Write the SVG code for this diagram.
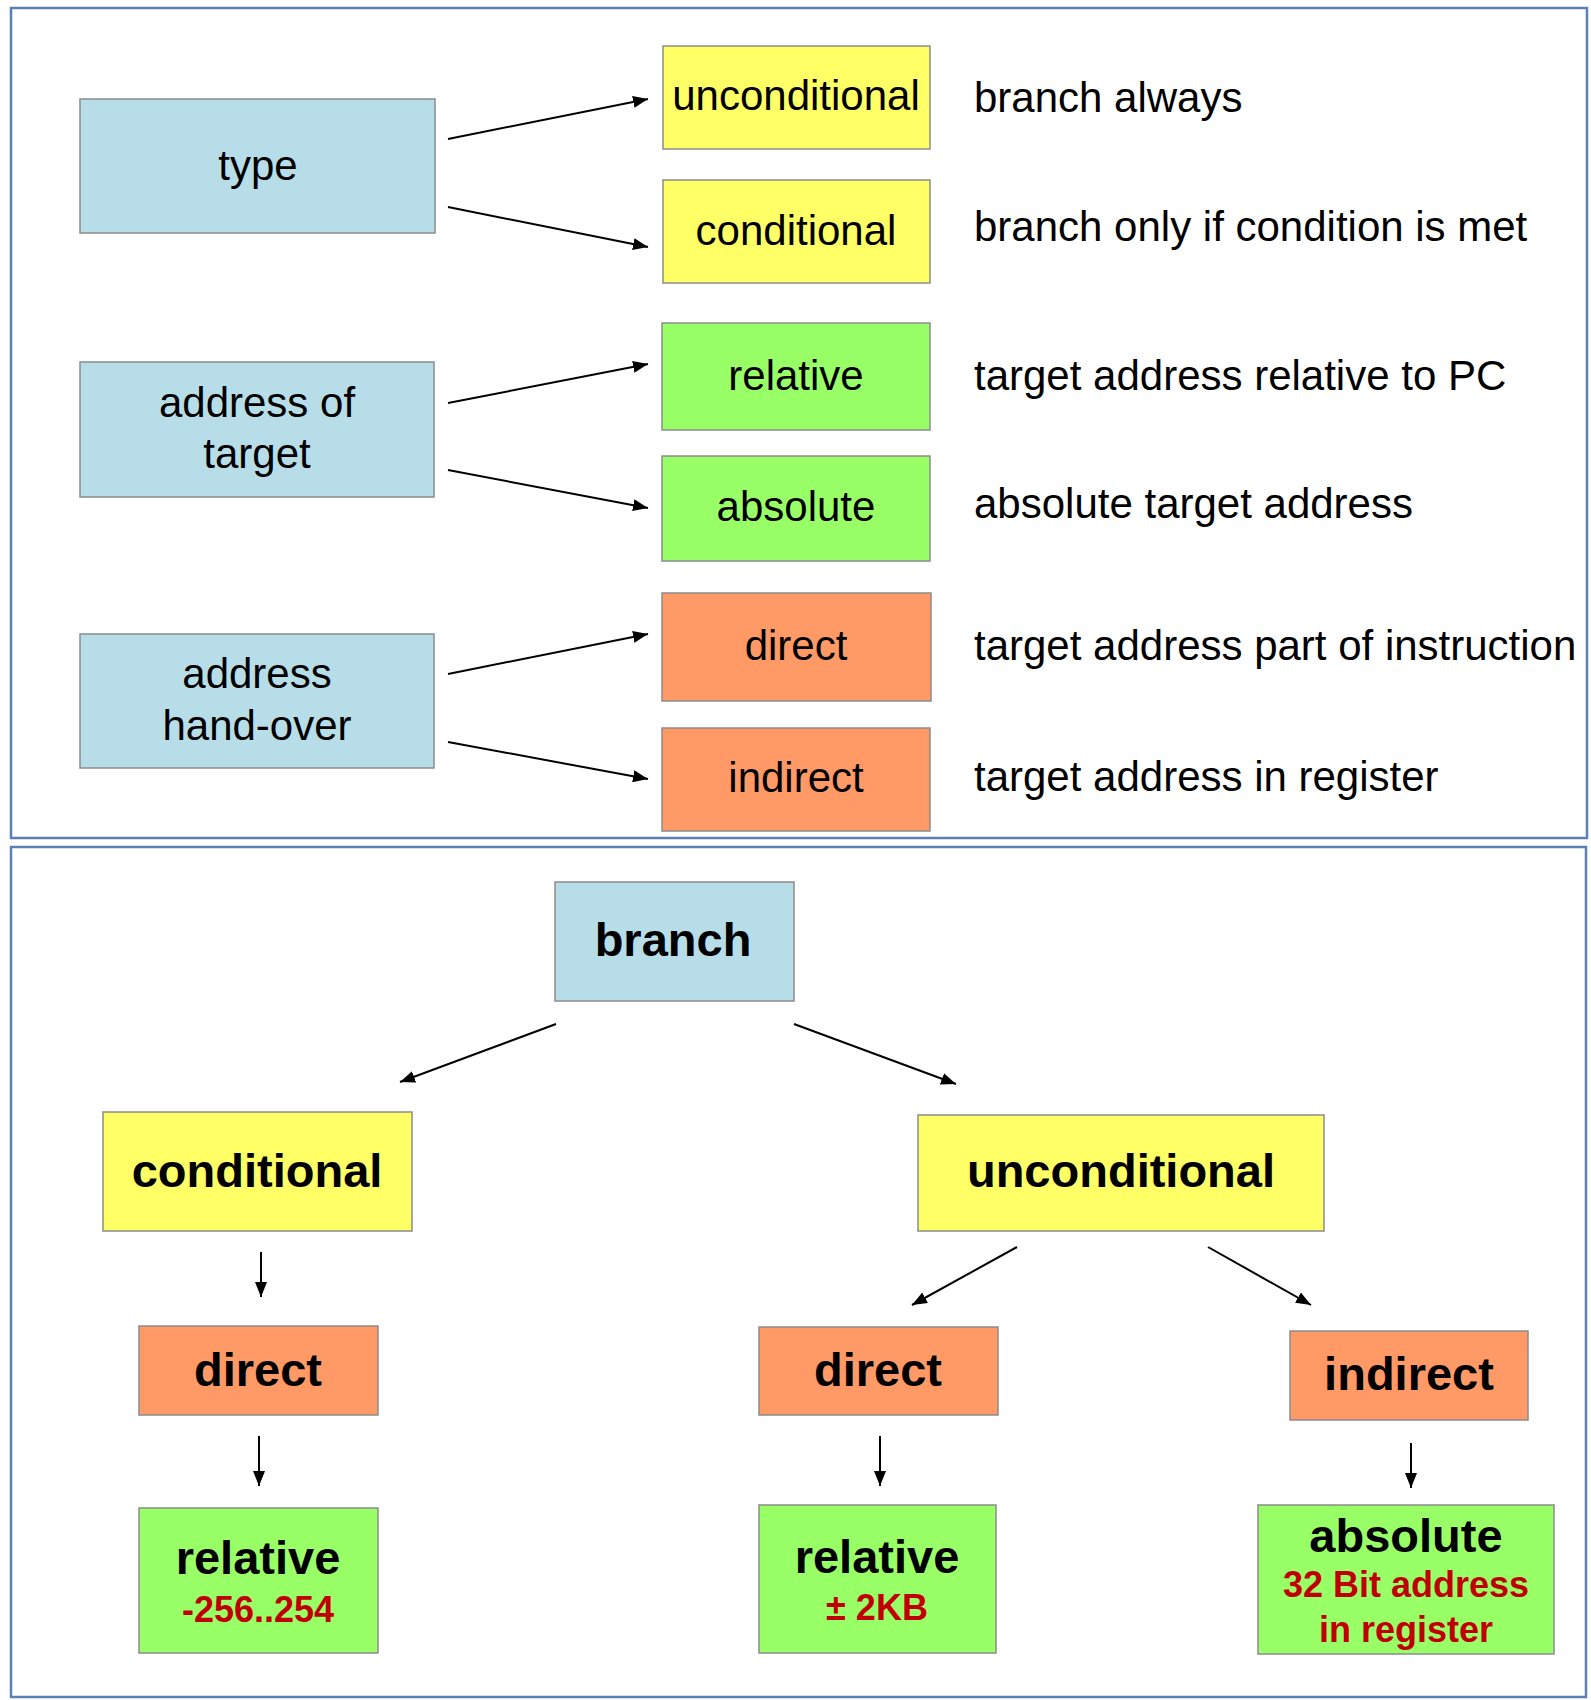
<svg xmlns="http://www.w3.org/2000/svg" width="1591" height="1700" viewBox="0 0 1591 1700">
<style>
.panel{fill:#ffffff;stroke:#5b80b5;stroke-width:2.5}
.box{stroke:#8c8c8c;stroke-width:1.5}
.blue{fill:#b7dee8}.yellow{fill:#ffff66}.green{fill:#99ff66}.orange{fill:#ff9966}
.t{font-family:"Liberation Sans",Arial,sans-serif;font-size:42px;fill:#000;text-anchor:middle}
.d{font-family:"Liberation Sans",Arial,sans-serif;font-size:42px;fill:#000}
.b{font-family:"Liberation Sans",Arial,sans-serif;font-size:47px;font-weight:bold;fill:#000;text-anchor:middle}
.r{font-family:"Liberation Sans",Arial,sans-serif;font-size:36px;font-weight:bold;fill:#c00000;text-anchor:middle}
.c line{stroke:#000;stroke-width:2;marker-end:url(#ah)}
</style>
<defs>
<marker id="ah" markerUnits="userSpaceOnUse" markerWidth="15" markerHeight="12" refX="15" refY="6" orient="auto">
<path d="M0,0 L15,6 L0,12 z" fill="#000"/>
</marker>
</defs>
<rect width="1591" height="1700" fill="#ffffff"/>
<rect class="panel" x="11" y="8" width="1576" height="830"/>
<rect class="panel" x="11" y="847" width="1575" height="850"/>

<g id="type"><rect class="box blue" x="80" y="99" width="355" height="134"/><text class="t" x="258" y="180">type</text></g>
<g id="unconditional-top"><rect class="box yellow" x="663" y="46" width="267" height="103"/><text class="t" x="796" y="110">unconditional</text></g>
<g id="conditional-top"><rect class="box yellow" x="663" y="180" width="267" height="103"/><text class="t" x="796" y="245">conditional</text></g>
<g id="address-of-target"><rect class="box blue" x="80" y="362" width="354" height="135"/><text class="t" x="257" y="417">address of</text><text class="t" x="257" y="468">target</text></g>
<g id="relative-top"><rect class="box green" x="662" y="323" width="268" height="107"/><text class="t" x="796" y="390">relative</text></g>
<g id="absolute-top"><rect class="box green" x="662" y="456" width="268" height="105"/><text class="t" x="796" y="521">absolute</text></g>
<g id="address-hand-over"><rect class="box blue" x="80" y="634" width="354" height="134"/><text class="t" x="257" y="688">address</text><text class="t" x="257" y="740">hand-over</text></g>
<g id="direct-top"><rect class="box orange" x="662" y="593" width="269" height="108"/><text class="t" x="796" y="660">direct</text></g>
<g id="indirect-top"><rect class="box orange" x="662" y="728" width="268" height="103"/><text class="t" x="796" y="792">indirect</text></g>

<g id="descriptions">
<text class="d" x="974" y="112">branch always</text>
<text class="d" x="974" y="241">branch only if condition is met</text>
<text class="d" x="974" y="390">target address relative to PC</text>
<text class="d" x="974" y="518">absolute target address</text>
<text class="d" x="974" y="660">target address part of instruction</text>
<text class="d" x="974" y="791">target address in register</text>
</g>

<g id="branch"><rect class="box blue" x="555" y="882" width="239" height="119"/><text class="b" x="673" y="956">branch</text></g>
<g id="conditional"><rect class="box yellow" x="103" y="1112" width="309" height="119"/><text class="b" x="257" y="1187">conditional</text></g>
<g id="unconditional"><rect class="box yellow" x="918" y="1115" width="406" height="116"/><text class="b" x="1121" y="1187">unconditional</text></g>
<g id="direct-left"><rect class="box orange" x="139" y="1326" width="239" height="89"/><text class="b" x="258" y="1386">direct</text></g>
<g id="direct-right"><rect class="box orange" x="759" y="1327" width="239" height="88"/><text class="b" x="878" y="1386">direct</text></g>
<g id="indirect"><rect class="box orange" x="1290" y="1331" width="238" height="89"/><text class="b" x="1409" y="1390">indirect</text></g>
<g id="relative-left"><rect class="box green" x="139" y="1508" width="239" height="145"/><text class="b" x="258" y="1574">relative</text><text class="r" x="258" y="1622">-256..254</text></g>
<g id="relative-right"><rect class="box green" x="759" y="1505" width="237" height="148"/><text class="b" x="877" y="1573">relative</text><text class="r" x="877" y="1620">± 2KB</text></g>
<g id="absolute"><rect class="box green" x="1258" y="1505" width="296" height="149"/><text class="b" x="1406" y="1552">absolute</text><text class="r" x="1406" y="1597">32 Bit address</text><text class="r" x="1406" y="1642">in register</text></g>

<g id="connectors" class="c">
<line x1="448" y1="139" x2="648" y2="99"/>
<line x1="448" y1="207" x2="648" y2="247"/>
<line x1="448" y1="403" x2="648" y2="364"/>
<line x1="448" y1="470" x2="648" y2="508"/>
<line x1="448" y1="674" x2="648" y2="634"/>
<line x1="448" y1="742" x2="648" y2="779"/>
<line x1="556" y1="1024" x2="400" y2="1082"/>
<line x1="794" y1="1024" x2="956" y2="1084"/>
<line x1="261" y1="1252" x2="261" y2="1297"/>
<line x1="259" y1="1436" x2="259" y2="1486"/>
<line x1="1017" y1="1247" x2="912" y2="1305"/>
<line x1="1208" y1="1247" x2="1311" y2="1305"/>
<line x1="880" y1="1436" x2="880" y2="1486"/>
<line x1="1411" y1="1443" x2="1411" y2="1488"/>
</g>
</svg>
